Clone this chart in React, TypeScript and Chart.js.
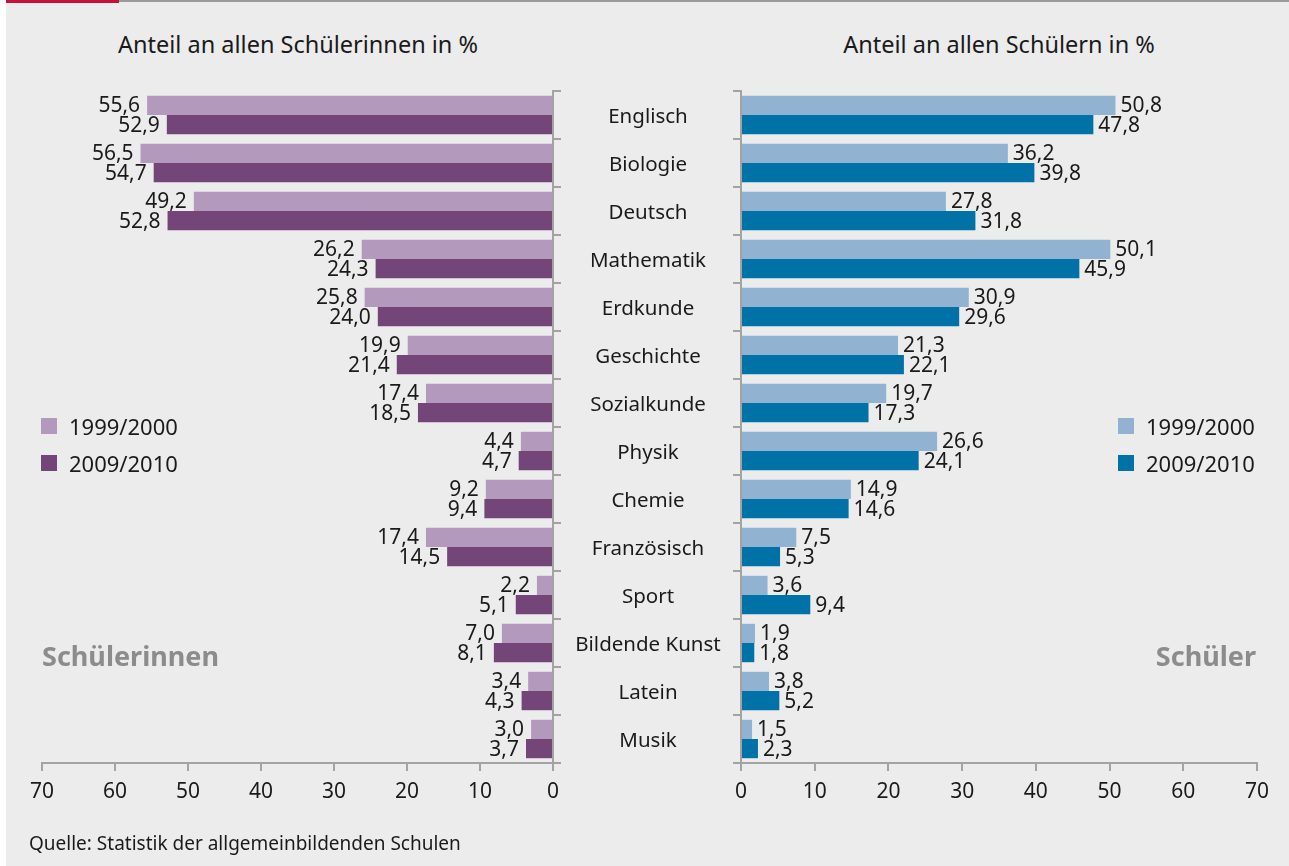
import React, { useEffect, useRef } from "react";
import { Chart, registerables } from "chart.js";

Chart.register(...registerables);

const categories = [
  "Englisch", "Biologie", "Deutsch", "Mathematik", "Erdkunde", "Geschichte", "Sozialkunde",
  "Physik", "Chemie", "Französisch", "Sport", "Bildende Kunst", "Latein", "Musik",
];
const seriesLabels = ["1999/2000", "2009/2010"];
const girls1999 = [55.6, 56.5, 49.2, 26.2, 25.8, 19.9, 17.4, 4.4, 9.2, 17.4, 2.2, 7.0, 3.4, 3.0];
const girls2009 = [52.9, 54.7, 52.8, 24.3, 24.0, 21.4, 18.5, 4.7, 9.4, 14.5, 5.1, 8.1, 4.3, 3.7];
const boys1999 = [50.8, 36.2, 27.8, 50.1, 30.9, 21.3, 19.7, 26.6, 14.9, 7.5, 3.6, 1.9, 3.8, 1.5];
const boys2009 = [47.8, 39.8, 31.8, 45.9, 29.6, 22.1, 17.3, 24.1, 14.6, 5.3, 9.4, 1.8, 5.2, 2.3];
const axisMin = 0;
const axisMax = 70;
const axisStep = 10;

const W = 1289;
const H = 866;
const FONT = "'Noto Sans', 'Open Sans', sans-serif";
const BG = "#ebeceb";
const GREY = "#a3a3a3";
const TEXT = "#1a1a1a";
const C_GIRL_LIGHT = "#b399bb";
const C_GIRL_DARK = "#744578";
const C_BOY_LIGHT = "#91b3d1";
const C_BOY_DARK = "#0072a7";

const fmt = (v: number) => v.toFixed(1).replace(".", ",");

function valueLabelPlugin(side: "left" | "right") {
  return {
    id: "valueLabels" + side,
    afterDatasetsDraw(chart: any) {
      const ctx = chart.ctx;
      ctx.save();
      ctx.font = `21px ${FONT}`;
      ctx.fillStyle = TEXT;
      ctx.textBaseline = "middle";
      ctx.textAlign = side === "left" ? "right" : "left";
      chart.data.datasets.forEach((ds: any, di: number) => {
        const meta = chart.getDatasetMeta(di);
        meta.data.forEach((bar: any, i: number) => {
          const x = side === "left" ? bar.x - 7 : bar.x + 5;
          ctx.fillText(fmt(ds.data[i]), x, bar.y + 1);
        });
      });
      ctx.restore();
    },
  };
}

const categoryLabelPlugin = {
  id: "categoryLabels",
  afterDraw(chart: any) {
    const ctx = chart.ctx;
    const yScale = chart.scales.y;
    ctx.save();
    ctx.font = `20.5px ${FONT}`;
    ctx.fillStyle = TEXT;
    ctx.textAlign = "center";
    ctx.textBaseline = "middle";
    categories.forEach((c, i) => {
      ctx.fillText(c, 648, yScale.getPixelForValue(i) + 2);
    });
    ctx.restore();
  },
};

function makeConfig(side: "left" | "right"): any {
  const left = side === "left";
  const d1 = left ? girls1999 : boys1999;
  const d2 = left ? girls2009 : boys2009;
  const c1 = left ? C_GIRL_LIGHT : C_BOY_LIGHT;
  const c2 = left ? C_GIRL_DARK : C_BOY_DARK;
  const plugins: any[] = [valueLabelPlugin(side)];
  if (left) plugins.push(categoryLabelPlugin);
  return {
    type: "bar",
    data: {
      labels: categories,
      datasets: [
        { label: seriesLabels[0], data: d1, backgroundColor: c1, categoryPercentage: 0.8, barPercentage: 1 },
        { label: seriesLabels[1], data: d2, backgroundColor: c2, categoryPercentage: 0.8, barPercentage: 1 },
      ],
    },
    options: {
      indexAxis: "y",
      responsive: false,
      animation: false,
      layout: {
        padding: left
          ? { top: 91, left: 42, right: W - 553 - 8, bottom: H - 763 - 40 }
          : { top: 91, left: 741 - 8, right: W - 1257, bottom: H - 763 - 40 },
      },
      scales: {
        x: {
          type: "linear",
          position: "bottom",
          reverse: left,
          min: axisMin,
          max: axisMax,
          ticks: {
            stepSize: axisStep,
            color: TEXT,
            font: { family: FONT, size: 21 },
            padding: 8,
            maxRotation: 0,
          },
          grid: { drawOnChartArea: false, drawTicks: true, tickLength: 8, color: GREY, lineWidth: 2 },
          border: { color: GREY, width: 2 },
          afterFit: (s: any) => { s.height = 40; },
        },
        y: {
          position: left ? "right" : "left",
          ticks: { display: false },
          grid: { drawOnChartArea: false, drawTicks: true, tickLength: 8, color: GREY, lineWidth: 2, offset: true },
          border: { color: GREY, width: 2 },
          afterFit: (s: any) => { s.width = 8; },
        },
      },
      plugins: { legend: { display: false }, tooltip: { enabled: false } },
    },
    plugins,
  };
}

function ChartCanvas({ side }: { side: "left" | "right" }) {
  const ref = useRef<HTMLCanvasElement>(null);
  useEffect(() => {
    if (!ref.current) return;
    const chart = new Chart(ref.current, makeConfig(side));
    return () => chart.destroy();
  }, [side]);
  return (
    <canvas
      ref={ref}
      width={W}
      height={H}
      style={{ position: "absolute", left: 0, top: 0, width: W, height: H }}
    />
  );
}

const abs = (x: number, y: number, extra: any = {}): any => ({
  position: "absolute",
  left: x,
  top: y,
  whiteSpace: "nowrap",
  fontFamily: FONT,
  color: TEXT,
  ...extra,
});

function Legend({ x, colors }: { x: number; colors: string[] }) {
  return (
    <>
      {seriesLabels.map((l, i) => (
        <React.Fragment key={l}>
          <div style={abs(x, 418 + i * 37, { width: 16, height: 16, background: colors[i] })} />
          <div style={abs(x + 28, 426 + i * 37, { fontSize: 22, transform: "translateY(-50%)", lineHeight: "26px" })}>{l}</div>
        </React.Fragment>
      ))}
    </>
  );
}

export default function App() {
  return (
    <div style={{ position: "absolute", left: 0, top: 0, width: W, height: H, background: "#fff", overflow: "hidden" }}>
      <div style={{ position: "absolute", left: 6, top: 0, width: W - 6, height: H, background: BG }} />
      <div style={{ position: "absolute", left: 6, top: 0, width: 113, height: 3, background: "#c4123b" }} />
      <div style={{ position: "absolute", left: 119, top: 0, width: W - 119, height: 2, background: "#9b9b9b" }} />
      <div style={abs(298, 44, { fontSize: 23.5, transform: "translate(-50%,-50%)" })}>Anteil an allen Schülerinnen in %</div>
      <div style={abs(999, 44, { fontSize: 23.5, transform: "translate(-50%,-50%)" })}>Anteil an allen Schülern in %</div>
      <ChartCanvas side="left" />
      <ChartCanvas side="right" />
      <Legend x={41} colors={[C_GIRL_LIGHT, C_GIRL_DARK]} />
      <Legend x={1118} colors={[C_BOY_LIGHT, C_BOY_DARK]} />
      <div style={abs(42, 655, { fontSize: 27, fontWeight: 700, color: "#8c8c8c", transform: "translateY(-50%)" })}>Schülerinnen</div>
      <div style={abs(1256, 655, { fontSize: 27, fontWeight: 700, color: "#8c8c8c", transform: "translate(-100%,-50%)" })}>Schüler</div>
      <div style={abs(29, 843, { fontSize: 19, transform: "translateY(-50%)" })}>Quelle: Statistik der allgemeinbildenden Schulen</div>
    </div>
  );
}
